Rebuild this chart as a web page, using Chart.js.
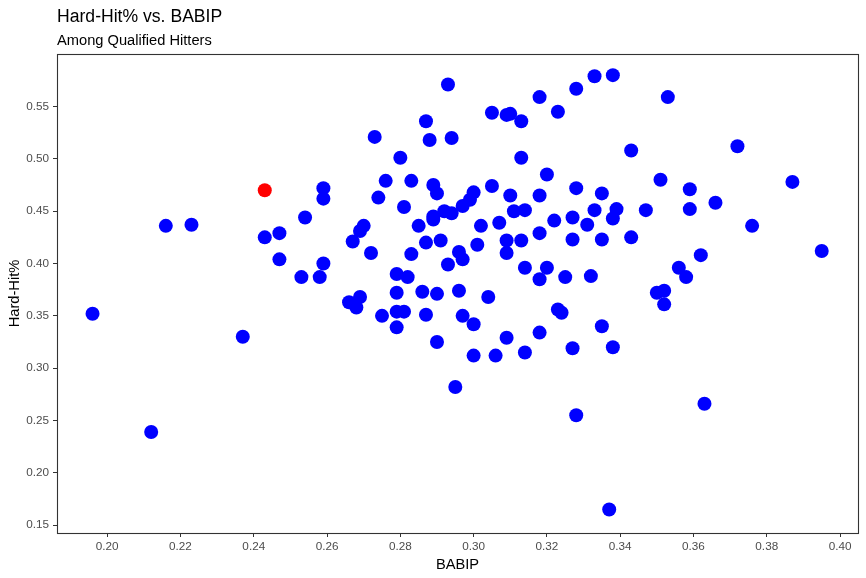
<!DOCTYPE html>
<html>
<head>
<meta charset="utf-8">
<script src="https://cdn.jsdelivr.net/npm/chart.js@4/dist/chart.umd.min.js"></script>
<style>
html,body{margin:0;padding:0;background:#fff;}
#wrap{width:866px;height:578px;}
</style>
</head>
<body>
<div id="wrap"><canvas id="c" width="866" height="578"></canvas></div>
<script>
const titleText = "Hard-Hit% vs. BABIP";
const subtitleText = "Among Qualified Hitters";
const xAxisTitle = "BABIP";
const yAxisTitle = "Hard-Hit%";

const babip = [
  0.196, 0.212, 0.216, 0.223, 0.237, 0.243, 0.247, 0.247, 0.253, 0.254,
  0.259, 0.259, 0.259, 0.258, 0.266, 0.268, 0.269, 0.267, 0.269, 0.270,
  0.272, 0.273, 0.274, 0.275, 0.276, 0.279, 0.279, 0.279, 0.281, 0.279,
  0.280, 0.281, 0.282, 0.283, 0.283, 0.285, 0.286, 0.287, 0.287, 0.287,
  0.288, 0.289, 0.289, 0.289, 0.290, 0.290, 0.290, 0.291, 0.292, 0.293,
  0.293, 0.294, 0.294, 0.295, 0.296, 0.296, 0.297, 0.297, 0.297, 0.299,
  0.300, 0.300, 0.300, 0.301, 0.302, 0.304, 0.305, 0.305, 0.306, 0.307,
  0.309, 0.310, 0.309, 0.309, 0.309, 0.310, 0.311, 0.313, 0.313, 0.313,
  0.314, 0.314, 0.314, 0.318, 0.318, 0.318, 0.318, 0.318, 0.320, 0.320,
  0.322, 0.323, 0.323, 0.324, 0.325, 0.327, 0.327, 0.327, 0.328, 0.328,
  0.328, 0.331, 0.332, 0.333, 0.333, 0.335, 0.335, 0.335, 0.337, 0.338,
  0.338, 0.338, 0.339, 0.343, 0.343, 0.347, 0.350, 0.351, 0.352, 0.352,
  0.353, 0.356, 0.358, 0.359, 0.359, 0.362, 0.363, 0.366, 0.372, 0.376,
  0.387, 0.395
];
const hardHit = [
  0.352, 0.239, 0.436, 0.437, 0.330, 0.425, 0.429, 0.404, 0.387, 0.444,
  0.472, 0.462, 0.400, 0.387, 0.363, 0.358, 0.368, 0.421, 0.431, 0.436,
  0.410, 0.521, 0.463, 0.350, 0.479, 0.390, 0.372, 0.354, 0.354, 0.339,
  0.501, 0.454, 0.387, 0.479, 0.409, 0.436, 0.373, 0.536, 0.351, 0.420,
  0.518, 0.475, 0.445, 0.442, 0.467, 0.371, 0.325, 0.422, 0.450, 0.571,
  0.399, 0.520, 0.448, 0.282, 0.411, 0.374, 0.455, 0.404, 0.350, 0.461,
  0.468, 0.342, 0.312, 0.418, 0.436, 0.368, 0.544, 0.474, 0.312, 0.439,
  0.542, 0.543, 0.422, 0.410, 0.329, 0.465, 0.450, 0.536, 0.501, 0.422,
  0.451, 0.396, 0.315, 0.559, 0.465, 0.429, 0.385, 0.334, 0.485, 0.396,
  0.441, 0.545, 0.356, 0.353, 0.387, 0.444, 0.423, 0.319, 0.567, 0.472,
  0.255, 0.437, 0.388, 0.579, 0.451, 0.467, 0.423, 0.340, 0.165, 0.580,
  0.443, 0.320, 0.452, 0.508, 0.425, 0.451, 0.372, 0.480, 0.374, 0.361,
  0.559, 0.396, 0.387, 0.471, 0.452, 0.408, 0.266, 0.458, 0.512, 0.436,
  0.478, 0.412
];
const highlightBabip = [0.243];
const highlightHardHit = [0.470];

const xTicks = [0.20, 0.22, 0.24, 0.26, 0.28, 0.30, 0.32, 0.34, 0.36, 0.38, 0.40];
const yTicks = [0.15, 0.20, 0.25, 0.30, 0.35, 0.40, 0.45, 0.50, 0.55];
const xRange = [0.1863, 0.4049];
const yRange = [0.1425, 0.6002];

const FONT = '"Liberation Sans", Arial, sans-serif';

const mainPoints = babip.map((x, i) => ({x: x, y: hardHit[i]}));
const redPoints = highlightBabip.map((x, i) => ({x: x, y: highlightHardHit[i]}));

const framePlugin = {
  id: 'frame',
  afterDraw(chart) {
    const ctx = chart.ctx;
    const a = chart.chartArea;
    ctx.save();
    ctx.strokeStyle = '#333333';
    ctx.lineWidth = 1.1;
    ctx.strokeRect(Math.round(a.left) + 0.5, Math.round(a.top) + 0.5,
      Math.round(a.right - a.left), Math.round(a.bottom - a.top));
    ctx.fillStyle = '#000000';
    ctx.textAlign = 'left';
    ctx.textBaseline = 'alphabetic';
    ctx.font = '17.6px ' + FONT;
    ctx.fillText(titleText, a.left, 22);
    ctx.font = '14.67px ' + FONT;
    ctx.fillText(subtitleText, a.left, 45);
    ctx.restore();
  }
};

new Chart(document.getElementById('c'), {
  type: 'scatter',
  data: {
    datasets: [
      {
        label: 'Hitters',
        data: mainPoints,
        backgroundColor: '#0000FF',
        borderWidth: 0,
        pointRadius: 7,
        pointHoverRadius: 7
      },
      {
        label: 'Highlighted',
        data: redPoints,
        backgroundColor: '#FF0000',
        borderWidth: 0,
        pointRadius: 7,
        pointHoverRadius: 7
      }
    ]
  },
  options: {
    responsive: false,
    animation: false,
    devicePixelRatio: 1,
    layout: { padding: { top: 54, right: 8, left: 0, bottom: 0 } },
    plugins: {
      legend: { display: false },
      tooltip: { enabled: false },
      title: { display: false }
    },
    scales: {
      x: {
        type: 'linear',
        min: xRange[0],
        max: xRange[1],
        afterBuildTicks(scale) { scale.ticks = xTicks.map(v => ({value: v})); },
        afterFit(scale) { scale.height = 45; },
        grid: { display: true, drawOnChartArea: false, drawTicks: true, tickLength: 4, color: '#333333', lineWidth: 1 },
        border: { display: false },
        ticks: {
          padding: 3,
          color: '#4D4D4D',
          font: { family: FONT, size: 11.73 },
          maxRotation: 0,
          autoSkip: false,
          callback: v => Number(v).toFixed(2)
        },
        title: {
          display: true,
          text: xAxisTitle,
          color: '#000000',
          font: { family: FONT, size: 14.67 },
          padding: { top: 0, bottom: 4 }
        }
      },
      y: {
        type: 'linear',
        min: yRange[0],
        max: yRange[1],
        afterBuildTicks(scale) { scale.ticks = yTicks.map(v => ({value: v})); },
        afterFit(scale) { scale.width = 57; },
        grid: { display: true, drawOnChartArea: false, drawTicks: true, tickLength: 4, color: '#333333', lineWidth: 1 },
        border: { display: false },
        ticks: {
          padding: 4,
          color: '#4D4D4D',
          font: { family: FONT, size: 11.73 },
          autoSkip: false,
          callback: v => Number(v).toFixed(2)
        },
        title: {
          display: true,
          text: yAxisTitle,
          color: '#000000',
          font: { family: FONT, size: 14.67 },
          padding: { top: 6, bottom: 0 }
        }
      }
    }
  },
  plugins: [framePlugin]
});
</script>
</body>
</html>
